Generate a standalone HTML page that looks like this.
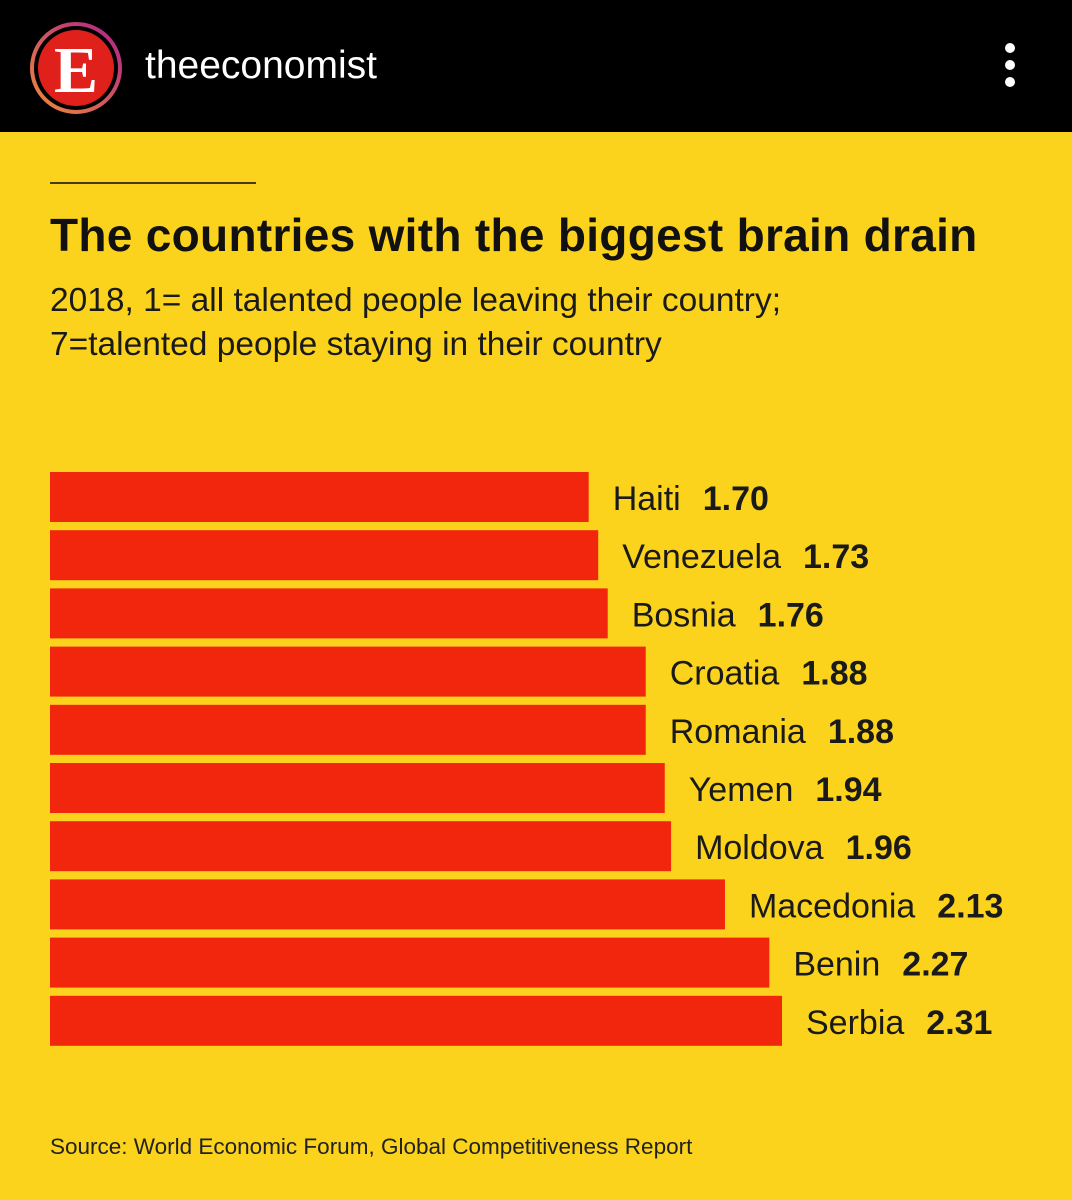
<!DOCTYPE html>
<html><head><meta charset="utf-8"><style>
body{margin:0;width:1072px;height:1200px;background:#fbd31d;font-family:"Liberation Sans",sans-serif;overflow:hidden;position:relative}
.hdr{position:absolute;left:0;top:0;width:1072px;height:132px;background:#000}
</style></head><body>
<div class="hdr">
<svg width="1072" height="132">
<defs><linearGradient id="g" x1="0" y1="1" x2="1" y2="0"><stop offset="0" stop-color="#f08a3a"/><stop offset="1" stop-color="#b0208a"/></linearGradient></defs>
<g>
<circle cx="76" cy="68" r="44" fill="none" stroke="url(#g)" stroke-width="4"/>
<circle cx="76" cy="68" r="38" fill="#e0201a"/>
<text x="76" y="92" text-anchor="middle" font-family="Liberation Serif,serif" font-weight="bold" font-size="66" fill="#fff">E</text></g>
<text x="145" y="78" font-size="39" fill="#fff">theeconomist</text>
<g fill="#fff"><circle cx="1010" cy="48" r="5"/><circle cx="1010" cy="65" r="5"/><circle cx="1010" cy="82" r="5"/></g>
</svg></div>
<div style="position:absolute;left:50px;top:182px;width:206px;height:2px;background:#4a3a10"></div>
<div style="position:absolute;left:50px;top:208px;font-size:46px;font-weight:bold;color:#111;white-space:nowrap;letter-spacing:0.3px">The countries with the biggest brain drain</div>
<div style="position:absolute;left:50px;top:279px;font-size:33.5px;line-height:44px;color:#1a1a1a;white-space:nowrap">2018, 1= all talented people leaving their country;<br>7=talented people staying in their country</div>
<svg id="chart" style="position:absolute;left:0;top:0" width="1072" height="1200"></svg>
<div style="position:absolute;left:50px;top:1134px;font-size:22.5px;color:#222">Source: World Economic Forum, Global Competitiveness Report</div>
<script>
const countries=["Haiti","Venezuela","Bosnia","Croatia","Romania","Yemen","Moldova","Macedonia","Benin","Serbia"];
const values=[1.70,1.73,1.76,1.88,1.88,1.94,1.96,2.13,2.27,2.31];
const labels=["1.70","1.73","1.76","1.88","1.88","1.94","1.96","2.13","2.27","2.31"];
const svg=document.getElementById('chart');const NS="http://www.w3.org/2000/svg";
const x=v=>50+v*(732/2.31);
const y=i=>472+i*58.2;
countries.forEach((c,i)=>{
 const r=document.createElementNS(NS,'rect');
 
 
 r.setAttribute('x',50);r.setAttribute('y',y(i));r.setAttribute('width',x(values[i])-50);r.setAttribute('height',50);r.setAttribute('fill','#f2260c');
 svg.appendChild(r);
 const t=document.createElementNS(NS,'text');
 
 
 t.setAttribute('x',x(values[i])+24);t.setAttribute('y',y(i)+38);t.setAttribute('font-size','34');t.setAttribute('fill','#1a1a1a');
 t.textContent=c;
 const b=document.createElementNS(NS,'tspan');b.setAttribute('font-weight','bold');b.setAttribute('dx','22');b.textContent=labels[i];
 t.appendChild(b);svg.appendChild(t);
});
</script>
</body></html>
